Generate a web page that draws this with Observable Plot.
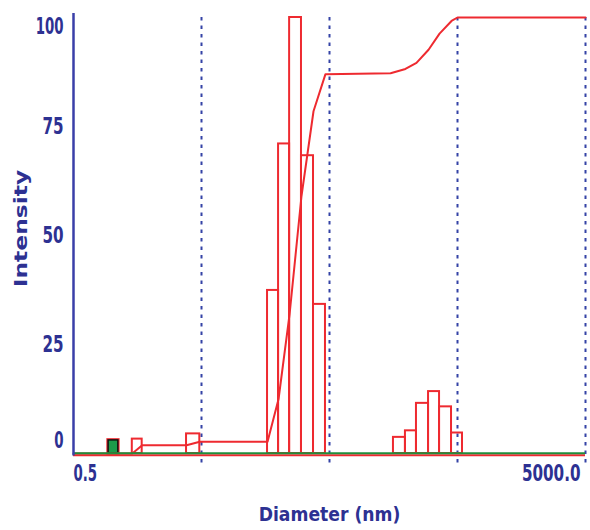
<!DOCTYPE html>
<html>
<head>
<meta charset="utf-8">
<script src="https://cdn.jsdelivr.net/npm/d3@7"></script>
<script src="https://cdn.jsdelivr.net/npm/@observablehq/plot@0.6"></script>
<style>
  html, body { margin: 0; padding: 0; background: #ffffff; }
  #chart { width: 590px; height: 530px; }
</style>
</head>
<body>
<div id="chart"></div>
<script>
// Intensity distribution bins (red outlined bars): lower edge, upper edge (nm), intensity
const redLo  = [1.44, 3.82, 16.4, 20.0, 24.4, 30.2, 37.5, 158, 196, 239, 297, 362, 449];
const redHi  = [1.72, 4.85, 20.0, 24.4, 30.2, 37.5, 46.5, 196, 239, 297, 362, 449, 547];
const redVal = [3.3, 4.5, 37.4, 71, 100, 68.3, 34.2, 3.7, 5.2, 11.5, 14.2, 10.7, 4.7];

// Green filled bin
const greenLo  = [0.94];
const greenHi  = [1.12];
const greenVal = [3.0];

// Cumulative intensity curve
const cumX = [0.5, 1.44, 1.72, 3.82, 4.85, 16.4, 20.0, 24.4, 30.2, 37.5, 46.5, 150, 196, 239, 297, 362, 449, 500, 5000];
const cumY = [0, 0, 1.9, 1.9, 2.7, 2.7, 12.5, 32, 59, 78.5, 87, 87.2, 88.2, 89.6, 92.6, 96.3, 99.2, 100, 100];

// Axes
const yTicks = [0, 25, 50, 75, 100];
const xTickValues = [0.5, 5000];
const xTickLabels = ["0.5", "5000.0"];
const gridX = [5, 50, 500, 5000];

const redBars = redLo.map((lo, i) => ({lo, hi: redHi[i], v: redVal[i]}));
const greenBars = greenLo.map((lo, i) => ({lo, hi: greenHi[i], v: greenVal[i]}));
const cum = cumX.map((x, i) => ({x, y: cumY[i]}));

const navy = "#2d3192";
const red = "#ee2a30";
const green = "#1f8f3c";
const font = "'DejaVu Sans', sans-serif";
const tickText = {fontSize: 23, fontWeight: "bold", fill: navy};

const chart = Plot.plot({
  width: 590,
  height: 530,
  marginLeft: 73,
  marginRight: 5,
  marginTop: 17,
  marginBottom: 77,
  style: {fontFamily: font, background: "#ffffff"},
  x: {type: "log", domain: [0.5, 5000], axis: null},
  y: {domain: [0, 100], axis: null},
  marks: [
    Plot.ruleX(gridX, {y1: -2.2, y2: 100.6, stroke: "#3443a6", strokeWidth: 2, strokeDasharray: "3.5,5"}),
    Plot.rect(redBars, {x1: "lo", x2: "hi", y1: 0, y2: "v", fill: "none", stroke: red, strokeWidth: 2}),
    Plot.rect(greenBars, {x1: "lo", x2: "hi", y1: 0, y2: "v", fill: "#1c9a4a", stroke: red, strokeWidth: 3.5}),
    Plot.rect(greenBars, {x1: "lo", x2: "hi", y1: 0, y2: "v", fill: "#1c9a4a", stroke: "#111", strokeWidth: 1.5}),
    Plot.line(cum, {x: "x", y: "y", stroke: red, strokeWidth: 2}),
    Plot.ruleY([0], {stroke: red, strokeWidth: 2, dy: 1.8}),
    Plot.ruleY([0], {stroke: green, strokeWidth: 2, dy: -0.2}),
    Plot.ruleX([0.5], {y1: -0.6, y2: 100.9, stroke: "#3a3fa8", strokeWidth: 2.5}),
    // y tick labels (sit slightly off their ticks, as in the instrument print)
    Plot.axisY({ticks: yTicks.slice(1, 4), tickSize: 0, tickPadding: 10, ...tickText, label: null}),
    Plot.axisY({ticks: [yTicks[0]], tickSize: 0, tickPadding: 10, dy: -13, ...tickText, label: null}),
    Plot.axisY({ticks: [yTicks[4]], tickSize: 0, tickPadding: 10, dy: 9, ...tickText, label: null}),
    // x tick labels
    Plot.text([xTickValues[0]], {x: d => d, text: () => xTickLabels[0], frameAnchor: "bottom", dy: 20, textAnchor: "start", lineAnchor: "middle", ...tickText}),
    Plot.text([xTickValues[1]], {x: d => d, text: () => xTickLabels[1], frameAnchor: "bottom", dy: 20, dx: -5, textAnchor: "end", lineAnchor: "middle", ...tickText}),
    Plot.text(["Diameter (nm)"], {frameAnchor: "bottom", dy: 61, lineAnchor: "middle", fontSize: 20, fontWeight: "bold", fill: navy}),
    Plot.text(["Intensity"], {frameAnchor: "left", textAnchor: "middle", dx: -52, dy: -7, rotate: -90, lineAnchor: "middle", fontSize: 18, fontWeight: "bold", fill: navy})
  ]
});
document.getElementById("chart").appendChild(chart);

// Condense / stretch the printed lettering to the reference's proportions
const numeric = new Set(yTicks.map(String).concat(xTickLabels));
const narrow = new Set(["100", "0.5", "0"]);
chart.querySelectorAll("text").forEach(t => {
  const s = t.textContent.trim();
  const len = t.getComputedTextLength();
  let k = null;
  if (numeric.has(s)) k = narrow.has(s) ? 0.58 : 0.66;
  else if (s === "Diameter (nm)") k = 0.86;
  else if (s === "Intensity") k = 1.3;
  if (k) {
    t.setAttribute("textLength", (len * k).toFixed(1));
    t.setAttribute("lengthAdjust", "spacingAndGlyphs");
  }
});
</script>
</body>
</html>
